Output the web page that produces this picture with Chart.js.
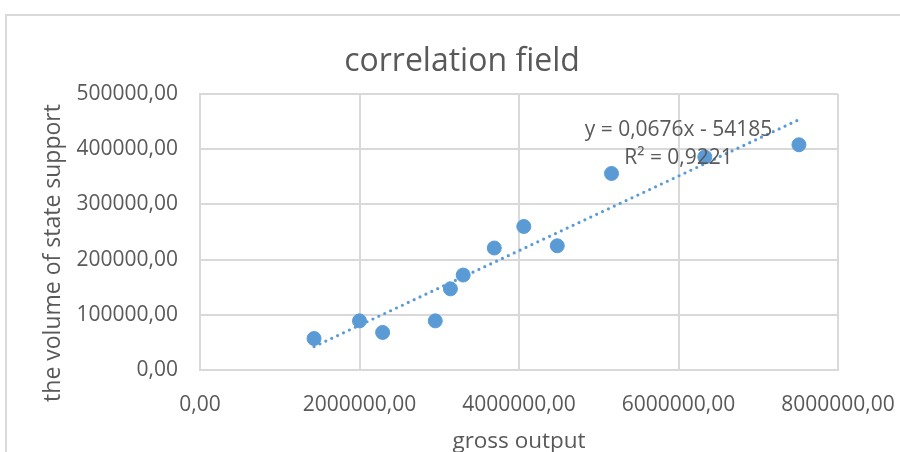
<!DOCTYPE html>
<html>
<head>
<meta charset="utf-8">
<script src="https://cdn.jsdelivr.net/npm/chart.js@4.4.1/dist/chart.umd.min.js"></script>
<style>
  html, body { margin: 0; padding: 0; background: #fff; }
  #wrap { position: relative; width: 900px; height: 452px; overflow: hidden; }
  #frame { position: absolute; left: 5px; top: 14px; width: 960px; height: 500px;
           border-left: 2px solid #d9d9d9; border-top: 2px solid #d9d9d9; }
  #box { position: absolute; left: 0; top: 0; width: 900px; height: 452px; }
</style>
</head>
<body>
<div id="wrap">
  <div id="frame"></div>
  <div id="box"><canvas id="corrChart"></canvas></div>
</div>
<script>
// gross output (x) vs volume of state support (y)
const grossOutput = [1430000, 2000000, 2290000, 2950000, 3140000, 3300000, 3690000, 4060000, 4480000, 5160000, 6330000, 7510000];
const stateSupport = [57000, 89000, 68000, 89000, 147000, 172000, 221000, 260000, 225000, 356000, 386000, 408000];

// linear trend as printed on the chart
const trendSlope = 0.0676;
const trendIntercept = -54185;
const trendLabels = ['y = 0,0676x - 54185', 'R² = 0,9221'];

const xTicks = [0, 2000000, 4000000, 6000000, 8000000];
const yTicks = [0, 100000, 200000, 300000, 400000, 500000];

const chartTitle = 'correlation field';
const yTitle = 'the volume of state support';

const FONT = '"Open Sans", sans-serif';
const TEXT = '#595959';
const GRID = '#d9d9d9';
const BLUE = '#5b9bd5';

const fmt = v => v.toFixed(2).replace('.', ',');

const xMin = Math.min(...grossOutput);
const xMax = Math.max(...grossOutput);
const trendPoints = [xMin, xMax].map(x => ({ x, y: trendSlope * x + trendIntercept }));

// title, rotated y title and the trend equation (Excel-style placement)
const textLayer = {
  id: 'textLayer',
  afterDraw(chart) {
    const { ctx, scales } = chart;
    ctx.save();
    ctx.fillStyle = TEXT;
    ctx.textAlign = 'center';

    ctx.font = '32px ' + FONT;
    ctx.textBaseline = 'alphabetic';
    ctx.fillText(chartTitle, 462, 71);

    ctx.textBaseline = 'middle';
    ctx.font = '21px ' + FONT;
    const cx = scales.x.getPixelForValue(6000000);
    ctx.fillText(trendLabels[0], cx, scales.y.getPixelForValue(435000));
    ctx.fillText(trendLabels[1], cx, scales.y.getPixelForValue(384000));

    ctx.font = '23px ' + FONT;
    ctx.translate(53, 253);
    ctx.rotate(-Math.PI / 2);
    ctx.fillText(yTitle, 0, 0);
    ctx.restore();
  }
};

new Chart(document.getElementById('corrChart'), {
  type: 'scatter',
  data: {
    datasets: [
      {
        label: 'trend',
        type: 'line',
        data: trendPoints,
        borderColor: BLUE,
        borderWidth: 3.2,
        borderDash: [0, 6.5],
        borderCapStyle: 'round',
        pointRadius: 0,
        fill: false,
        order: 0
      },
      {
        label: 'data',
        data: grossOutput.map((x, i) => ({ x, y: stateSupport[i] })),
        backgroundColor: BLUE,
        borderColor: BLUE,
        pointRadius: 7,
        pointHoverRadius: 7,
        order: 1
      }
    ]
  },
  options: {
    responsive: true,
    maintainAspectRatio: false,
    animation: false,
    layout: { padding: { left: 0, right: 62, top: 94, bottom: 0 } },
    plugins: {
      legend: { display: false },
      tooltip: { enabled: false },
      title: { display: false }
    },
    scales: {
      x: {
        type: 'linear',
        min: 0,
        max: 8000000,
        afterBuildTicks: s => { s.ticks = xTicks.map(value => ({ value })); },
        afterFit: s => { s.height = 82; s.paddingLeft = 0; s.paddingRight = 0; },
        ticks: { callback: fmt, color: TEXT, font: { family: FONT, size: 21 }, padding: 22, maxRotation: 0, autoSkip: false },
        grid: { color: GRID, lineWidth: 2, drawTicks: false },
        border: { color: GRID, width: 2 },
        title: {
          display: true,
          text: 'gross output',
          color: TEXT,
          font: { family: FONT, size: 22.5, lineHeight: 0.95 },
          padding: { top: 0, bottom: 0 }
        }
      },
      y: {
        type: 'linear',
        min: 0,
        max: 500000,
        afterBuildTicks: s => { s.ticks = yTicks.map(value => ({ value })); },
        afterFit: s => { s.width = 200; s.paddingTop = 0; s.paddingBottom = 0; },
        ticks: { callback: fmt, color: TEXT, font: { family: FONT, size: 21 }, padding: 22 },
        grid: { color: GRID, lineWidth: 2, drawTicks: false },
        border: { color: GRID, width: 2 }
      }
    }
  },
  plugins: [textLayer]
});
</script>
</body>
</html>
